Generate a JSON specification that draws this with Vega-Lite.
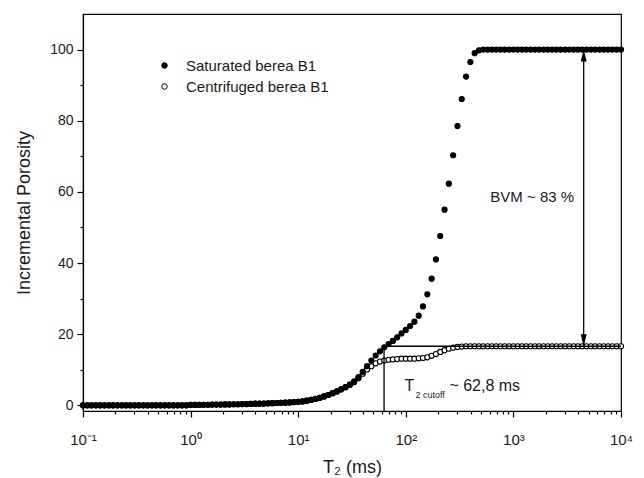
{
  "$schema": "https://vega.github.io/schema/vega-lite/v6.json",
  "width": 538,
  "height": 397,
  "autosize": {"type": "none"},
  "padding": {"left": 83, "top": 14, "right": 23, "bottom": 67},
  "background": "white",
  "config": {
    "view": {"stroke": "black", "strokeWidth": 1.2},
    "font": "Liberation Sans",
    "axis": {"grid": false, "domainColor": "black", "tickColor": "black", "labelColor": "#1a1a1a", "titleColor": "#1a1a1a", "titleFontWeight": "normal", "domainWidth": 1.2, "tickWidth": 1.2}
  },
  "datasets": {
    "pts": [
      {"t":0.1,"s":"S","y":0},{"t":0.1096,"s":"S","y":0},{"t":0.1202,"s":"S","y":0},{"t":0.1318,"s":"S","y":0},{"t":0.1445,"s":"S","y":0},{"t":0.1585,"s":"S","y":0},{"t":0.1738,"s":"S","y":0},{"t":0.1905,"s":"S","y":0},{"t":0.2089,"s":"S","y":0},{"t":0.2291,"s":"S","y":0},{"t":0.2512,"s":"S","y":0},{"t":0.2754,"s":"S","y":0},{"t":0.302,"s":"S","y":0},{"t":0.3311,"s":"S","y":0},{"t":0.3631,"s":"S","y":0},{"t":0.3981,"s":"S","y":0},{"t":0.4365,"s":"S","y":0},{"t":0.4786,"s":"S","y":0},{"t":0.5248,"s":"S","y":0},{"t":0.5754,"s":"S","y":0},{"t":0.631,"s":"S","y":0},{"t":0.6918,"s":"S","y":0},{"t":0.7586,"s":"S","y":0},{"t":0.8318,"s":"S","y":0},{"t":0.912,"s":"S","y":0},
      {"t":1,"s":"S","y":0.1},{"t":1.096,"s":"S","y":0.1},{"t":1.202,"s":"S","y":0.1},{"t":1.318,"s":"S","y":0.15},{"t":1.445,"s":"S","y":0.15},{"t":1.585,"s":"S","y":0.2},{"t":1.738,"s":"S","y":0.2},{"t":1.905,"s":"S","y":0.2},{"t":2.089,"s":"S","y":0.25},{"t":2.291,"s":"S","y":0.25},{"t":2.512,"s":"S","y":0.3},{"t":2.754,"s":"S","y":0.3},{"t":3.02,"s":"S","y":0.35},{"t":3.311,"s":"S","y":0.35},{"t":3.631,"s":"S","y":0.4},{"t":3.981,"s":"S","y":0.45},{"t":4.365,"s":"S","y":0.45},{"t":4.786,"s":"S","y":0.5},{"t":5.248,"s":"S","y":0.55},{"t":5.754,"s":"S","y":0.6},{"t":6.31,"s":"S","y":0.65},{"t":6.918,"s":"S","y":0.7},{"t":7.586,"s":"S","y":0.75},{"t":8.318,"s":"S","y":0.8},{"t":9.12,"s":"S","y":0.9},
      {"t":10,"s":"S","y":1.0},{"t":10.96,"s":"S","y":1.1},{"t":12.02,"s":"S","y":1.3},{"t":13.18,"s":"S","y":1.5},{"t":14.45,"s":"S","y":1.8},{"t":15.85,"s":"S","y":2.1},{"t":17.38,"s":"S","y":2.5},{"t":19.05,"s":"S","y":2.9},{"t":20.89,"s":"S","y":3.4},{"t":22.91,"s":"S","y":3.9},{"t":25.12,"s":"S","y":4.5},{"t":27.54,"s":"S","y":5.1},{"t":30.2,"s":"S","y":5.8},{"t":33.11,"s":"S","y":6.7},{"t":36.31,"s":"S","y":7.9},{"t":39.81,"s":"S","y":9.4},{"t":43.65,"s":"S","y":11.0},{"t":47.86,"s":"S","y":12.6},{"t":52.48,"s":"S","y":14.0},{"t":57.54,"s":"S","y":15.2},{"t":63.1,"s":"S","y":16.3},{"t":69.18,"s":"S","y":17.2},{"t":75.86,"s":"S","y":18.1},{"t":83.18,"s":"S","y":19.1},{"t":91.2,"s":"S","y":20.2},
      {"t":100,"s":"S","y":21.2},{"t":109.6,"s":"S","y":22.3},{"t":120.2,"s":"S","y":23.5},{"t":131.8,"s":"S","y":25.2},{"t":144.5,"s":"S","y":27.8},{"t":158.5,"s":"S","y":31.2},{"t":173.8,"s":"S","y":35.6},{"t":190.5,"s":"S","y":41.0},{"t":208.9,"s":"S","y":47.6},{"t":229.1,"s":"S","y":55.0},{"t":251.2,"s":"S","y":62.3},{"t":275.4,"s":"S","y":70.3},{"t":302,"s":"S","y":78.5},{"t":331.1,"s":"S","y":86.1},{"t":363.1,"s":"S","y":92.4},{"t":398.1,"s":"S","y":96.5},{"t":436.5,"s":"S","y":99.0},{"t":478.6,"s":"S","y":99.8},{"t":524.8,"s":"S","y":100},{"t":575.4,"s":"S","y":100},{"t":631,"s":"S","y":100},{"t":691.8,"s":"S","y":100},{"t":758.6,"s":"S","y":100},{"t":831.8,"s":"S","y":100},{"t":912,"s":"S","y":100},
      {"t":1000,"s":"S","y":100},{"t":1096,"s":"S","y":100},{"t":1202,"s":"S","y":100},{"t":1318,"s":"S","y":100},{"t":1445,"s":"S","y":100},{"t":1585,"s":"S","y":100},{"t":1738,"s":"S","y":100},{"t":1905,"s":"S","y":100},{"t":2089,"s":"S","y":100},{"t":2291,"s":"S","y":100},{"t":2512,"s":"S","y":100},{"t":2754,"s":"S","y":100},{"t":3020,"s":"S","y":100},{"t":3311,"s":"S","y":100},{"t":3631,"s":"S","y":100},{"t":3981,"s":"S","y":100},{"t":4365,"s":"S","y":100},{"t":4786,"s":"S","y":100},{"t":5248,"s":"S","y":100},{"t":5754,"s":"S","y":100},{"t":6310,"s":"S","y":100},{"t":6918,"s":"S","y":100},{"t":7586,"s":"S","y":100},{"t":8318,"s":"S","y":100},{"t":9120,"s":"S","y":100},{"t":10000,"s":"S","y":100},
      {"t":0.1,"s":"C","y":0},{"t":0.1096,"s":"C","y":0},{"t":0.1202,"s":"C","y":0},{"t":0.1318,"s":"C","y":0},{"t":0.1445,"s":"C","y":0},{"t":0.1585,"s":"C","y":0},{"t":0.1738,"s":"C","y":0},{"t":0.1905,"s":"C","y":0},{"t":0.2089,"s":"C","y":0},{"t":0.2291,"s":"C","y":0},{"t":0.2512,"s":"C","y":0},{"t":0.2754,"s":"C","y":0},{"t":0.302,"s":"C","y":0},{"t":0.3311,"s":"C","y":0},{"t":0.3631,"s":"C","y":0},{"t":0.3981,"s":"C","y":0},{"t":0.4365,"s":"C","y":0},{"t":0.4786,"s":"C","y":0},{"t":0.5248,"s":"C","y":0},{"t":0.5754,"s":"C","y":0},{"t":0.631,"s":"C","y":0},{"t":0.6918,"s":"C","y":0},{"t":0.7586,"s":"C","y":0},{"t":0.8318,"s":"C","y":0},{"t":0.912,"s":"C","y":0},
      {"t":1,"s":"C","y":0.1},{"t":1.096,"s":"C","y":0.1},{"t":1.202,"s":"C","y":0.1},{"t":1.318,"s":"C","y":0.15},{"t":1.445,"s":"C","y":0.15},{"t":1.585,"s":"C","y":0.2},{"t":1.738,"s":"C","y":0.2},{"t":1.905,"s":"C","y":0.2},{"t":2.089,"s":"C","y":0.25},{"t":2.291,"s":"C","y":0.25},{"t":2.512,"s":"C","y":0.3},{"t":2.754,"s":"C","y":0.3},{"t":3.02,"s":"C","y":0.35},{"t":3.311,"s":"C","y":0.35},{"t":3.631,"s":"C","y":0.4},{"t":3.981,"s":"C","y":0.45},{"t":4.365,"s":"C","y":0.45},{"t":4.786,"s":"C","y":0.5},{"t":5.248,"s":"C","y":0.55},{"t":5.754,"s":"C","y":0.6},{"t":6.31,"s":"C","y":0.65},{"t":6.918,"s":"C","y":0.7},{"t":7.586,"s":"C","y":0.75},{"t":8.318,"s":"C","y":0.8},{"t":9.12,"s":"C","y":0.9},
      {"t":10,"s":"C","y":1.0},{"t":10.96,"s":"C","y":1.1},{"t":12.02,"s":"C","y":1.3},{"t":13.18,"s":"C","y":1.5},{"t":14.45,"s":"C","y":1.8},{"t":15.85,"s":"C","y":2.1},{"t":17.38,"s":"C","y":2.5},{"t":19.05,"s":"C","y":2.9},{"t":20.89,"s":"C","y":3.4},{"t":22.91,"s":"C","y":3.9},{"t":25.12,"s":"C","y":4.5},{"t":27.54,"s":"C","y":5.1},{"t":30.2,"s":"C","y":5.8},{"t":33.11,"s":"C","y":6.5},{"t":36.31,"s":"C","y":7.6},{"t":39.81,"s":"C","y":8.9},{"t":43.65,"s":"C","y":10.1},{"t":47.86,"s":"C","y":11.0},{"t":52.48,"s":"C","y":11.8},{"t":57.54,"s":"C","y":12.3},{"t":63.1,"s":"C","y":12.6},{"t":69.18,"s":"C","y":12.8},{"t":75.86,"s":"C","y":12.9},{"t":83.18,"s":"C","y":13.0},{"t":91.2,"s":"C","y":13.1},
      {"t":100,"s":"C","y":13.1},{"t":109.6,"s":"C","y":13.1},{"t":120.2,"s":"C","y":13.1},{"t":131.8,"s":"C","y":13.2},{"t":144.5,"s":"C","y":13.3},{"t":158.5,"s":"C","y":13.5},{"t":173.8,"s":"C","y":13.9},{"t":190.5,"s":"C","y":14.4},{"t":208.9,"s":"C","y":15.0},{"t":229.1,"s":"C","y":15.5},{"t":251.2,"s":"C","y":15.9},{"t":275.4,"s":"C","y":16.2},{"t":302,"s":"C","y":16.4},{"t":331.1,"s":"C","y":16.5},{"t":363.1,"s":"C","y":16.6},{"t":398.1,"s":"C","y":16.6},{"t":436.5,"s":"C","y":16.6},{"t":478.6,"s":"C","y":16.6},{"t":524.8,"s":"C","y":16.6},{"t":575.4,"s":"C","y":16.6},{"t":631,"s":"C","y":16.6},{"t":691.8,"s":"C","y":16.6},{"t":758.6,"s":"C","y":16.6},{"t":831.8,"s":"C","y":16.6},{"t":912,"s":"C","y":16.6},
      {"t":1000,"s":"C","y":16.6},{"t":1096,"s":"C","y":16.6},{"t":1202,"s":"C","y":16.6},{"t":1318,"s":"C","y":16.6},{"t":1445,"s":"C","y":16.6},{"t":1585,"s":"C","y":16.6},{"t":1738,"s":"C","y":16.6},{"t":1905,"s":"C","y":16.6},{"t":2089,"s":"C","y":16.6},{"t":2291,"s":"C","y":16.6},{"t":2512,"s":"C","y":16.6},{"t":2754,"s":"C","y":16.6},{"t":3020,"s":"C","y":16.6},{"t":3311,"s":"C","y":16.6},{"t":3631,"s":"C","y":16.6},{"t":3981,"s":"C","y":16.6},{"t":4365,"s":"C","y":16.6},{"t":4786,"s":"C","y":16.6},{"t":5248,"s":"C","y":16.6},{"t":5754,"s":"C","y":16.6},{"t":6310,"s":"C","y":16.6},{"t":6918,"s":"C","y":16.6},{"t":7586,"s":"C","y":16.6},{"t":8318,"s":"C","y":16.6},{"t":9120,"s":"C","y":16.6},{"t":10000,"s":"C","y":16.6}
    ]
  },
  "resolve": {"axis": {"x": "independent", "y": "independent"}},
  "layer": [
    {
      "data": {"name": "pts"},
      "mark": {"type": "point", "filled": true, "stroke": "black", "strokeWidth": 1.1, "size": 26, "opacity": 1},
      "encoding": {
        "x": {"field": "t", "type": "quantitative", "scale": {"type": "log", "domain": [0.1, 10000], "nice": false},
          "axis": {"orient": "bottom", "values": [0.1, 1, 10, 100, 1000, 10000], "labelExpr": "datum.value < 0.5 ? '10⁻¹' : datum.value < 5 ? '10⁰' : datum.value < 50 ? '10¹' : datum.value < 500 ? '10²' : datum.value < 5000 ? '10³' : '10⁴'", "title": "T₂ (ms)", "tickSize": 6, "labelPadding": 15, "labelFontSize": 15, "titleFontSize": 18, "titlePadding": 11, "labelFlush": false, "labelOverlap": false}},
        "y": {"field": "y", "type": "quantitative", "scale": {"domain": [-1.6, 110], "nice": false, "zero": false},
          "axis": {"orient": "left", "values": [0, 20, 40, 60, 80, 100], "title": "Incremental Porosity", "tickSize": 6, "labelPadding": 4, "labelFontSize": 14, "titleFontSize": 18, "titlePadding": 16}},
        "fill": {"field": "s", "type": "nominal", "scale": {"domain": ["S", "C"], "range": ["black", "white"]},
          "legend": {"orient": "none", "legendX": 74, "legendY": 44, "title": null, "labelFontSize": 15, "labelColor": "#1a1a1a", "symbolSize": 30, "symbolType": "circle", "labelOffset": 14, "rowPadding": 5, "symbolStrokeColor": "black", "symbolStrokeWidth": 1, "padding": 0,
            "labelExpr": "datum.label == 'S' ? 'Saturated berea B1' : 'Centrifuged berea B1'"}},
        "order": {"field": "s", "type": "nominal"}
      }
    },
    {
      "data": {"values": [{"t": 62.8, "y0": -1.6, "y1": 16.6}]},
      "mark": {"type": "rule", "color": "black", "strokeWidth": 1.3},
      "encoding": {
        "x": {"field": "t", "type": "quantitative", "scale": {"type": "log", "domain": [0.1, 10000], "nice": false},
          "axis": {"orient": "bottom", "values": [0.2,0.3,0.4,0.5,0.6,0.7,0.8,0.9,2,3,4,5,6,7,8,9,20,30,40,50,60,70,80,90,200,300,400,500,600,700,800,900,2000,3000,4000,5000,6000,7000,8000,9000], "labels": false, "domain": false, "tickSize": 3, "title": null}},
        "y": {"field": "y0", "type": "quantitative", "scale": {"domain": [-1.6, 110], "nice": false, "zero": false},
          "axis": {"orient": "left", "values": [10, 30, 50, 70, 90], "labels": false, "domain": false, "tickSize": 3, "title": null}},
        "y2": {"field": "y1"}
      }
    },
    {
      "data": {"values": [{"t0": 62.8, "t1": 10000, "y": 16.6}]},
      "mark": {"type": "rule", "color": "black", "strokeWidth": 1.3},
      "encoding": {
        "x": {"field": "t0", "type": "quantitative", "axis": null},
        "x2": {"field": "t1"},
        "y": {"field": "y", "type": "quantitative", "axis": null}
      }
    },
    {
      "data": {"values": [{"t": 4500, "y0": 16.6, "y1": 100}]},
      "mark": {"type": "rule", "color": "black", "strokeWidth": 1.3},
      "encoding": {
        "x": {"field": "t", "type": "quantitative", "axis": null},
        "y": {"field": "y0", "type": "quantitative", "axis": null},
        "y2": {"field": "y1"}
      }
    },
    {
      "data": {"values": [{"t": 4500, "y": 100, "dir": "up"}, {"t": 4500, "y": 16.6, "dir": "down"}]},
      "mark": {"type": "point", "filled": true, "color": "black", "size": 576, "opacity": 1},
      "encoding": {
        "x": {"field": "t", "type": "quantitative", "axis": null},
        "y": {"field": "y", "type": "quantitative", "axis": null},
        "shape": {"field": "dir", "type": "nominal", "scale": {"domain": ["up", "down"], "range": ["M0,0L-0.25,1L0.25,1Z", "M0,0L-0.25,-1L0.25,-1Z"]}, "legend": null}
      }
    },
    {
      "data": {"values": [{"t": 610, "y": 58.5, "label": "BVM ~ 83 %"}]},
      "mark": {"type": "text", "align": "left", "baseline": "middle", "fontSize": 15, "color": "#1a1a1a"},
      "encoding": {
        "x": {"field": "t", "type": "quantitative", "axis": null},
        "y": {"field": "y", "type": "quantitative", "axis": null},
        "text": {"field": "label"}
      }
    },
    {
      "data": {"values": [{"t": 97, "y": 5.3, "label": "T"}]},
      "mark": {"type": "text", "align": "left", "baseline": "middle", "fontSize": 16, "color": "#1a1a1a"},
      "encoding": {
        "x": {"field": "t", "type": "quantitative", "axis": null},
        "y": {"field": "y", "type": "quantitative", "axis": null},
        "text": {"field": "label"}
      }
    },
    {
      "data": {"values": [{"t": 97, "y": 5.3, "label": "2 cutoff"}]},
      "mark": {"type": "text", "align": "left", "baseline": "middle", "fontSize": 9, "dx": 11, "dy": 9, "color": "#1a1a1a"},
      "encoding": {
        "x": {"field": "t", "type": "quantitative", "axis": null},
        "y": {"field": "y", "type": "quantitative", "axis": null},
        "text": {"field": "label"}
      }
    },
    {
      "data": {"values": [{"t": 97, "y": 5.3, "label": "~ 62,8 ms"}]},
      "mark": {"type": "text", "align": "left", "baseline": "middle", "fontSize": 16, "dx": 45, "color": "#1a1a1a"},
      "encoding": {
        "x": {"field": "t", "type": "quantitative", "axis": null},
        "y": {"field": "y", "type": "quantitative", "axis": null},
        "text": {"field": "label"}
      }
    }
  ]
}
